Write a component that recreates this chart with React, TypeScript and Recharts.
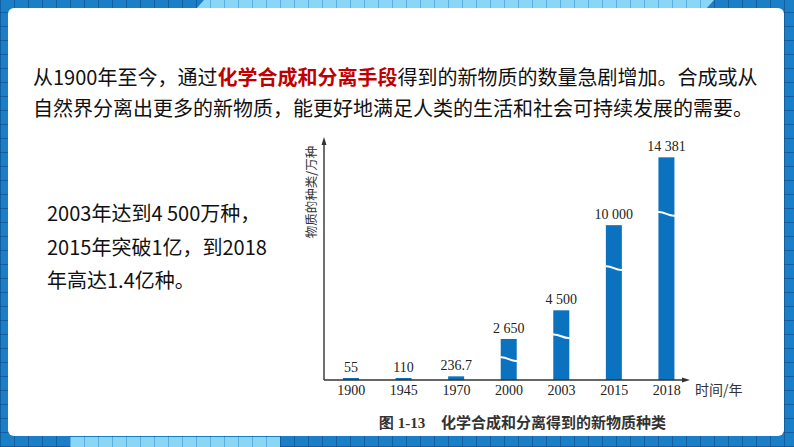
import React from 'react';
import { BarChart, Bar, XAxis, YAxis, LabelList } from 'recharts';

// 年份与新物质种类（万种）
const years = ['1900', '1945', '1970', '2000', '2003', '2015', '2018'];
const counts = [55, 110, 236.7, 2650, 4500, 10000, 14381];
// 图中带断裂标记的柱
const broken = [false, false, false, true, true, true, true];

const data = years.map((year, i) => ({ year, count: counts[i], broken: broken[i] }));

const BLUE = '#0b72bf';
const SERIF = '"Liberation Serif", "Times New Roman", serif';
const SANS = '"Noto Sans CJK SC", "Noto Sans", sans-serif';

const fmt = (v: number) =>
  v >= 1000 ? String(v).replace(/\B(?=(\d{3})+(?!\d))/g, ' ') : String(v);

function BrokenBar(props: any) {
  const { x, y, width, height, payload } = props;
  if (!height || height <= 0) return null;
  const yb = y + 12 + height * 0.2;
  return (
    <g>
      <rect x={x} y={y} width={width} height={height} fill={BLUE} />
      {payload?.broken && (
        <path
          d={`M${x - 0.5},${yb - 1.8} C${x + width * 0.4},${yb - 2.6} ${x + width * 0.6},${yb + 2.6} ${x + width + 0.5},${yb + 1.8}`}
          stroke="#fff"
          strokeWidth={2}
          fill="none"
        />
      )}
    </g>
  );
}

// 柱顶数值，不换行
function ValueLabel(props: any) {
  const { x, y, width, value } = props;
  return (
    <text
      x={x + width / 2}
      y={y - 6}
      textAnchor="middle"
      fontFamily={SERIF}
      fontSize={14}
      fill="#222"
    >
      {fmt(Number(value))}
    </text>
  );
}

const frameBg = {
  backgroundColor: '#1b7fc8',
  backgroundImage:
    'repeating-linear-gradient(90deg, rgba(10,70,130,0.55) 0 1px, transparent 1px 14px), repeating-linear-gradient(0deg, rgba(10,70,130,0.55) 0 1px, transparent 1px 14px)',
};

export default function App() {
  return (
    <div style={{ position: 'absolute', left: 0, top: 0, width: 794, height: 447, overflow: 'hidden', ...frameBg }}>
      {/* light strips on the frame */}
      <div
        style={{
          position: 'absolute', left: 196, top: 0, width: 518, height: 9,
          background: '#8ad6f5', clipPath: 'polygon(8px 0, 100% 0, calc(100% - 8px) 100%, 0 100%)',
          backgroundImage: 'repeating-linear-gradient(90deg, rgba(60,150,210,0.6) 0 1px, transparent 1px 14px)',
        }}
      />
      <div
        style={{
          position: 'absolute', left: 70, top: 437, width: 210, height: 10, background: '#8ad6f5',
          backgroundImage: 'repeating-linear-gradient(90deg, rgba(60,150,210,0.6) 0 1px, transparent 1px 14px)',
        }}
      />
      <div style={{ position: 'absolute', left: 8, top: 8, width: 776, height: 428, background: '#fff', borderRadius: 6 }} />

      <div
        style={{
          position: 'absolute', left: 33, top: 61, width: 740, fontFamily: SANS, fontSize: 20,
          lineHeight: '31px', color: '#111', whiteSpace: 'nowrap',
        }}
      >
        <div>
          从1900年至今，通过<span style={{ color: '#c00000', fontWeight: 700 }}>化学合成和分离手段</span>得到的新物质的数量急剧增加。合成或从
        </div>
        <div>自然界分离出更多的新物质，能更好地满足人类的生活和社会可持续发展的需要。</div>
      </div>

      <div
        style={{
          position: 'absolute', left: 47, top: 196, fontFamily: SANS, fontSize: 20,
          lineHeight: '33.5px', color: '#111', whiteSpace: 'nowrap',
        }}
      >
        <div>2003年达到4 500万种，</div>
        <div>2015年突破1亿，到2018</div>
        <div>年高达1.4亿种。</div>
      </div>

      <div style={{ position: 'absolute', left: 280, top: 130 }}>
        <BarChart
          width={480}
          height={280}
          data={data}
          margin={{ top: 10, right: 67, bottom: 0, left: 45 }}
          barSize={16}
        >
          <YAxis hide domain={[0, 15500]} type="number" />
          <XAxis
            dataKey="year"
            height={30}
            axisLine={false}
            tickLine={false}
            tickSize={0}
            tickMargin={5}
            interval={0}
            tick={{ fontFamily: SERIF, fontSize: 14, fill: '#222' }}
          />
          <Bar dataKey="count" isAnimationActive={false} shape={<BrokenBar />} minPointSize={2}>
            <LabelList dataKey="count" content={<ValueLabel />} />
          </Bar>
        </BarChart>
      </div>

      {/* axes with arrows */}
      <svg style={{ position: 'absolute', left: 0, top: 0 }} width={794} height={447}>
        <line x1={324} y1={380} x2={324} y2={142} stroke="#333" strokeWidth={1.4} />
        <path d="M321.5,145 L324,137 L326.5,145 Z" fill="#333" />
        <line x1={324} y1={380} x2={684} y2={380} stroke="#333" strokeWidth={1.4} />
        <path d="M682,377.5 L690,380 L682,382.5 Z" fill="#333" />
        <text
          transform="translate(316,192) rotate(-90)"
          textAnchor="middle"
          fontFamily={SANS}
          fontSize={12.5}
          fill="#333"
        >
          物质的种类/万种
        </text>
        <text x={695} y={395} fontFamily={SANS} fontSize={14} fill="#333">
          时间/年
        </text>
        <text x={379} y={428} fontFamily={SERIF} fontSize={15} fontWeight={700} fill="#333">
          图 1-13
        </text>
        <text x={441} y={428} fontFamily={SANS} fontSize={15} fontWeight={700} fill="#333">
          化学合成和分离得到的新物质种类
        </text>
      </svg>
    </div>
  );
}
